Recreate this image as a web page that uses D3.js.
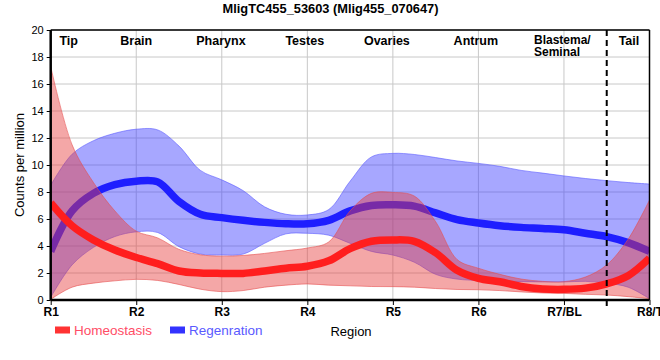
<!DOCTYPE html>
<html>
<head>
<meta charset="utf-8">
<script src="https://cdn.jsdelivr.net/npm/d3@7"></script>
<style>
  html, body { margin: 0; padding: 0; background: #fff; }
  svg { display: block; }
  text { font-family: "Liberation Sans", Arial, sans-serif; }
</style>
</head>
<body>
<svg id="chart" width="660" height="360"></svg>
<script>
// ---------------- DATA ----------------
const title = "MligTC455_53603 (Mlig455_070647)";
const xTickLabels = ["R1", "R2", "R3", "R4", "R5", "R6", "R7/BL", "R8/T"];
const yTicks = [0, 2, 4, 6, 8, 10, 12, 14, 16, 18, 20];
const regionLabels = ["Tip", "Brain", "Pharynx", "Testes", "Ovaries", "Antrum", "Blastema/|Seminal", "Tail"];
const regionLabelPos = [1.21, 2.0, 2.99, 3.97, 4.93, 5.97, 6.85, 7.76];
const dividerAt = 7.5;

// sample positions along the region axis (R1 = 1 ... R8 = 8)
const pos = [1, 1.25, 1.5, 1.75, 2, 2.25, 2.5, 2.75, 3, 3.25, 3.5, 3.75, 4, 4.25, 4.5, 4.75,
             5, 5.25, 5.5, 5.75, 6, 6.25, 6.5, 6.75, 7, 7.25, 7.5, 7.75, 8];

const homeoMean  = [7.2, 5.5, 4.45, 3.7, 3.15, 2.7, 2.15, 2.0, 1.97, 1.97, 2.15, 2.35, 2.5, 2.9, 3.8, 4.35,
                    4.45, 4.35, 3.5, 2.2, 1.6, 1.35, 1.0, 0.82, 0.79, 0.88, 1.2, 1.8, 3.1];
const homeoUpper = [17.3, 11.5, 8.7, 6.6, 5.1, 4.6, 3.75, 3.35, 3.25, 3.3, 3.45, 3.65, 3.85, 4.3, 6.6, 7.9,
                    7.97, 7.7, 5.8, 3.0, 2.35, 1.9, 1.55, 1.38, 1.36, 1.7, 2.6, 4.5, 7.4];
const homeoLower = [0.05, 0.95, 1.25, 1.42, 1.53, 1.45, 1.15, 0.8, 0.62, 0.7, 0.95, 1.1, 1.19, 1.1, 1.05, 1.0,
                    0.99, 0.95, 0.85, 0.78, 0.76, 0.7, 0.6, 0.52, 0.49, 0.42, 0.37, 0.25, 0.1];

const regenMean  = [3.6, 6.6, 7.9, 8.55, 8.8, 8.75, 7.3, 6.35, 6.1, 5.9, 5.75, 5.65, 5.65, 5.9, 6.6, 7.0,
                    7.05, 6.95, 6.45, 5.95, 5.7, 5.5, 5.38, 5.3, 5.2, 4.95, 4.7, 4.25, 3.6];
const regenUpper = [8.5, 10.8, 11.8, 12.35, 12.65, 12.6, 11.4, 9.6, 8.9, 8.1, 6.9, 6.35, 6.3, 6.7, 8.8, 10.6,
                    10.86, 10.78, 10.55, 10.3, 10.12, 9.9, 9.6, 9.4, 9.19, 9.0, 8.84, 8.7, 8.59];
const regenLower = [0.2, 2.6, 3.9, 4.7, 5.05, 5.0, 3.95, 3.4, 3.33, 3.4, 4.2, 4.9, 4.94, 4.8, 4.2, 3.6,
                    3.33, 2.8, 1.9, 1.55, 1.45, 1.4, 1.36, 1.34, 1.34, 1.38, 1.25, 0.95, 0.1];

const legendItems = [
  { name: "Homeostasis", swatch: "#ff3333", text: "#ff4d66" },
  { name: "Regenration", swatch: "#3333ff", text: "#5a5aff" }
];

// ---------------- DRAW ----------------
const svg = d3.select("#chart");
const x = d3.scaleLinear().domain([1, 8]).range([50.7, 649.5]);
const y = d3.scaleLinear().domain([0, 20]).range([300, 30]);

const toRows = (mean, lo, hi) => pos.map((p, i) => ({ p, m: mean[i], lo: lo[i], hi: hi[i] }));
const homeo = toRows(homeoMean, homeoLower, homeoUpper);
const regen = toRows(regenMean, regenLower, regenUpper);

const curve = d3.curveCatmullRom.alpha(0.5);
const area = d3.area().x(d => x(d.p)).y0(d => y(d.lo)).y1(d => y(d.hi)).curve(curve);
const line = d3.line().x(d => x(d.p)).y(d => y(d.m)).curve(curve);
const upper = d3.line().x(d => x(d.p)).y(d => y(d.hi)).curve(curve);
const lower = d3.line().x(d => x(d.p)).y(d => y(d.lo)).curve(curve);

// grid
const grid = svg.append("g");
grid.selectAll("line.h").data(yTicks.slice(1)).join("line")
  .attr("x1", x(1)).attr("x2", x(8)).attr("y1", d => y(d)).attr("y2", d => y(d))
  .attr("stroke", "#c8c8c8").attr("stroke-width", 1);
grid.selectAll("line.v").data(d3.range(2, 8)).join("line")
  .attr("x1", d => x(d)).attr("x2", d => x(d)).attr("y1", y(0)).attr("y2", y(20))
  .attr("stroke", "#c8c8c8").attr("stroke-width", 1);

svg.append("clipPath").attr("id", "plotclip").append("rect")
  .attr("x", x(1)).attr("y", y(20)).attr("width", x(8) - x(1)).attr("height", y(0) - y(20));
const plot = svg.append("g").attr("clip-path", "url(#plotclip)");

// regeneration band + line
plot.append("path").datum(regen).attr("d", area)
  .attr("fill", "rgb(60,60,255)").attr("fill-opacity", 0.45);
plot.append("path").datum(regen).attr("d", upper).attr("fill", "none")
  .attr("stroke", "rgb(90,90,255)").attr("stroke-opacity", 0.6).attr("stroke-width", 1);
plot.append("path").datum(regen).attr("d", lower).attr("fill", "none")
  .attr("stroke", "rgb(90,90,255)").attr("stroke-opacity", 0.6).attr("stroke-width", 1);
plot.append("path").datum(regen).attr("d", line).attr("fill", "none")
  .attr("stroke", "rgb(30,30,255)").attr("stroke-width", 7.5);

// homeostasis band + line
plot.append("path").datum(homeo).attr("d", area)
  .attr("fill", "rgb(230,60,60)").attr("fill-opacity", 0.45);
plot.append("path").datum(homeo).attr("d", upper).attr("fill", "none")
  .attr("stroke", "rgb(230,80,80)").attr("stroke-opacity", 0.6).attr("stroke-width", 1);
plot.append("path").datum(homeo).attr("d", lower).attr("fill", "none")
  .attr("stroke", "rgb(230,80,80)").attr("stroke-opacity", 0.6).attr("stroke-width", 1);
plot.append("path").datum(homeo).attr("d", line).attr("fill", "none")
  .attr("stroke", "rgb(255,30,30)").attr("stroke-width", 7.5);

// frame
svg.append("line").attr("x1", x(1)).attr("x2", x(8)).attr("y1", y(20)).attr("y2", y(20))
  .attr("stroke", "#000").attr("stroke-width", 1.5);
svg.append("line").attr("x1", x(8)).attr("x2", x(8)).attr("y1", y(20)).attr("y2", y(0))
  .attr("stroke", "#000").attr("stroke-width", 1.5);

// dashed divider
svg.append("line").attr("x1", x(dividerAt)).attr("x2", x(dividerAt)).attr("y1", y(20)).attr("y2", y(0) + 6)
  .attr("stroke", "#000").attr("stroke-width", 2).attr("stroke-dasharray", "6,4");

// y axis
const yAxis = svg.append("g").attr("transform", `translate(${x(1)},0)`)
  .call(d3.axisLeft(y).tickValues(yTicks).tickSize(4).tickFormat(d3.format("d")));
yAxis.select(".domain").attr("stroke-width", 2.5).attr("d", `M0,${y(20)}V${y(0)}`);
yAxis.selectAll("text").attr("font-size", 11).attr("fill", "#000")
  .attr("font-family", "'Liberation Sans', Arial, sans-serif");

// x axis
const xAxis = svg.append("g").attr("transform", `translate(0,${y(0)})`)
  .call(d3.axisBottom(x).tickValues(d3.range(1, 9)).tickSize(5).tickFormat((d, i) => xTickLabels[i]));
xAxis.select(".domain").attr("stroke-width", 2.5).attr("d", `M${x(1)},0H${x(8)}`);
xAxis.selectAll("text").attr("font-size", 12).attr("font-weight", "bold").attr("fill", "#000")
  .attr("dy", "0.71em").attr("y", 7)
  .attr("font-family", "'Liberation Sans', Arial, sans-serif");

// region labels
const rl = svg.append("g");
regionLabels.forEach((lab, i) => {
  const parts = lab.split("|");
  const multi = parts.length > 1;
  const lx = multi ? 534 : x(regionLabelPos[i]);
  const t = rl.append("text").attr("x", lx).attr("y", multi ? 44 : 45)
    .attr("font-size", multi ? 12 : 12.5).attr("font-weight", "bold")
    .attr("text-anchor", multi ? "start" : "middle");
  parts.forEach((p, j) => {
    t.append("tspan").attr("x", lx).attr("dy", j === 0 ? 0 : 12).text(p);
  });
});

// title
svg.append("text").attr("x", 330.5).attr("y", 13).attr("text-anchor", "middle")
  .attr("font-size", 13).attr("font-weight", "bold")
  .attr("textLength", 216).attr("lengthAdjust", "spacingAndGlyphs").text(title);

// y label
svg.append("text").attr("transform", "translate(24,165) rotate(-90)").attr("text-anchor", "middle")
  .attr("font-size", 13).text("Counts per million");

// x label
svg.append("text").attr("x", 351).attr("y", 335.5).attr("text-anchor", "middle")
  .attr("font-size", 13).text("Region");

// legend
const legendX = [55, 170];
legendItems.forEach((it, i) => {
  svg.append("rect").attr("x", legendX[i]).attr("y", 326.5).attr("width", 15).attr("height", 7)
    .attr("fill", it.swatch);
  svg.append("text").attr("x", legendX[i] + 19).attr("y", 335).attr("font-size", 13.5)
    .attr("fill", it.text).text(it.name);
});
</script>
</body>
</html>
